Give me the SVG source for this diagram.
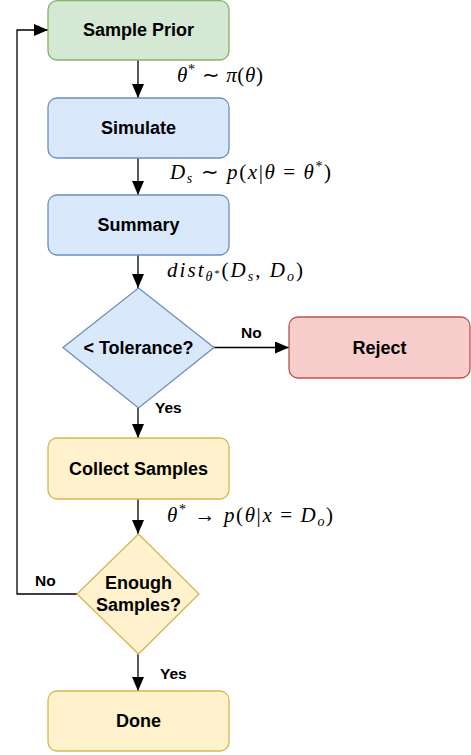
<svg xmlns="http://www.w3.org/2000/svg" width="471" height="755" viewBox="0 0 471 755">
<style>
.lbl{font-family:"Liberation Sans",Arial,sans-serif;font-weight:bold;font-size:18px;fill:#000;text-anchor:middle;dominant-baseline:central}
.sm{font-family:"Liberation Sans",Arial,sans-serif;font-weight:bold;font-size:15.5px;fill:#000;dominant-baseline:central}
.m{font-family:"Liberation Serif","Times New Roman",serif;font-size:21px;fill:#000}
.i{font-style:italic}
.sub{font-size:14px}
.edge{fill:none;stroke:#000;stroke-width:1.3}
.g{fill:#d5e8d4;stroke:#82b366;stroke-width:1.3}
.b{fill:#dae8fc;stroke:#6c8ebf;stroke-width:1.3}
.r{fill:#f8cecc;stroke:#b85450;stroke-width:1.3}
.y{fill:#fff2cc;stroke:#d6b656;stroke-width:1.3}
</style>
<defs>
<marker id="ar" viewBox="0 0 14 12" refX="14" refY="6" markerWidth="14" markerHeight="12" markerUnits="userSpaceOnUse" orient="auto">
<path d="M0,0 L14,6 L0,12 Z" fill="#000"/>
</marker>
</defs>
<g id="edges">
<path class="edge" d="M138,60 V98" marker-end="url(#ar)"/>
<path class="edge" d="M138,158 V195" marker-end="url(#ar)"/>
<path class="edge" d="M138,255 V288" marker-end="url(#ar)"/>
<path class="edge" d="M214,347.5 H289" marker-end="url(#ar)"/>
<path class="edge" d="M138,408 V438" marker-end="url(#ar)"/>
<path class="edge" d="M138,499 V534" marker-end="url(#ar)"/>
<path class="edge" d="M138,654 V691" marker-end="url(#ar)"/>
<path class="edge" d="M77,594 H17 V30 H48" marker-end="url(#ar)"/>
<text class="sm" x="241" y="332">No</text>
<text class="sm" x="155" y="407">Yes</text>
<text class="sm" x="35" y="580">No</text>
<text class="sm" x="160" y="673">Yes</text>
<text class="m" x="177" y="82" textLength="86" lengthAdjust="spacing"><tspan class="i">θ</tspan><tspan class="sub" dy="-8">*</tspan><tspan dy="8"> ∼ </tspan><tspan class="i">π</tspan>(<tspan class="i">θ</tspan>)</text>
<text class="m" x="170" y="179" textLength="161" lengthAdjust="spacing"><tspan class="i">D</tspan><tspan class="sub i" dy="4">s</tspan><tspan dy="-4"> ∼ </tspan><tspan class="i">p</tspan>(<tspan class="i">x</tspan>|<tspan class="i">θ</tspan> = <tspan class="i">θ</tspan><tspan class="sub" dy="-8">*</tspan><tspan dy="8">)</tspan></text>
<text class="m" x="167" y="277" textLength="136" lengthAdjust="spacing"><tspan class="i">dist</tspan><tspan class="sub i" dy="4">θ</tspan><tspan style="font-size:10px" dy="-4">*</tspan><tspan dy="0">(</tspan><tspan class="i">D</tspan><tspan class="sub i" dy="4">s</tspan><tspan dy="-4">, </tspan><tspan class="i">D</tspan><tspan class="sub i" dy="4">o</tspan><tspan dy="-4">)</tspan></text>
<text class="m" x="167" y="522" textLength="166" lengthAdjust="spacing"><tspan class="i">θ</tspan><tspan class="sub" dy="-8">*</tspan><tspan dy="8"> → </tspan><tspan class="i">p</tspan>(<tspan class="i">θ</tspan>|<tspan class="i">x</tspan> = <tspan class="i">D</tspan><tspan class="sub i" dy="4">o</tspan><tspan dy="-4">)</tspan></text>
</g>
<g id="sample-prior"><rect class="g" x="48" y="0.7" width="181" height="59.3" rx="9"/><text class="lbl" x="138.5" y="30">Sample Prior</text></g>
<g id="simulate"><rect class="b" x="48" y="98" width="181" height="60" rx="9"/><text class="lbl" x="138.5" y="128">Simulate</text></g>
<g id="summary"><rect class="b" x="48" y="195" width="181" height="60" rx="9"/><text class="lbl" x="138.5" y="225">Summary</text></g>
<g id="tolerance"><path class="b" d="M138.5,288 L214,347.5 L138.5,408 L63,347.5 Z"/><text class="lbl" x="138.5" y="347.5">&lt; Tolerance?</text></g>
<g id="reject"><rect class="r" x="289" y="317" width="181" height="61" rx="9"/><text class="lbl" x="379.5" y="348">Reject</text></g>
<g id="collect"><rect class="y" x="48" y="438" width="181" height="61" rx="9"/><text class="lbl" x="138.5" y="469">Collect Samples</text></g>
<g id="enough"><path class="y" d="M138.5,534 L199,594 L138.5,654 L77,594 Z"/><text class="lbl" x="138.5" y="583">Enough</text><text class="lbl" x="138.5" y="605">Samples?</text></g>
<g id="done"><rect class="y" x="48" y="691" width="181" height="60" rx="9"/><text class="lbl" x="138.5" y="721">Done</text></g>
</svg>
